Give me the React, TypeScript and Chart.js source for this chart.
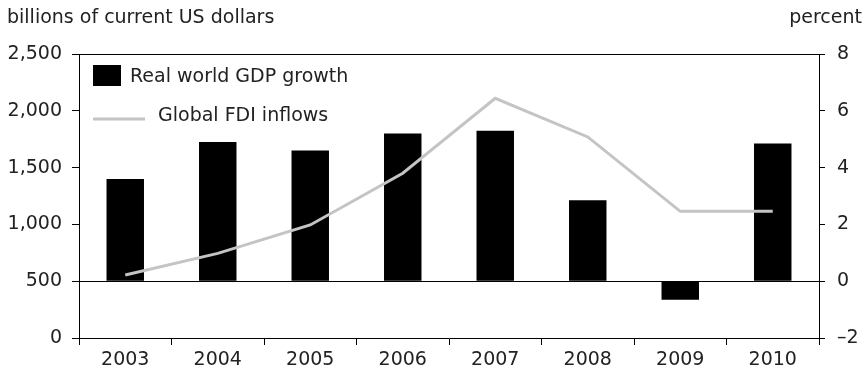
import React, { useEffect, useRef } from "react";
import { Chart, registerables } from "chart.js";

Chart.register(...registerables);

const categories = ["2003", "2004", "2005", "2006", "2007", "2008", "2009", "2010"];
const gdpGrowth = [3.6, 4.9, 4.6, 5.2, 5.3, 2.85, -0.65, 4.85];
const fdiInflows = [555, 745, 995, 1450, 2110, 1770, 1115, 1115];
const leftTicks = [0, 500, 1000, 1500, 2000, 2500];
const rightTicks = [-2, 0, 2, 4, 6, 8];

const FONT = "'DejaVu Sans', sans-serif";
const FS = 19;
const TEXT = "#222";
const LINE_GRAY = "#c4c4c4";

export default function App() {
  const ref = useRef<HTMLCanvasElement | null>(null);

  useEffect(() => {
    document.body.style.margin = "0";
    const canvas = ref.current;
    if (!canvas) return;

    const overlay = {
      id: "overlay",
      afterDraw(chart: any) {
        const ctx = chart.ctx;
        ctx.save();
        ctx.fillStyle = TEXT;
        ctx.font = `${FS}px ${FONT}`;
        ctx.textBaseline = "middle";
        ctx.textAlign = "left";
        ctx.fillText("billions of current US dollars", 7, 18);
        ctx.textAlign = "right";
        ctx.fillText("percent", 862, 18);
        // legend
        ctx.textAlign = "left";
        ctx.fillStyle = "#000";
        ctx.fillRect(93, 65, 28, 21);
        ctx.fillStyle = TEXT;
        ctx.fillText("Real world GDP growth", 130, 77);
        ctx.strokeStyle = LINE_GRAY;
        ctx.lineWidth = 3;
        ctx.beginPath();
        ctx.moveTo(93, 119);
        ctx.lineTo(145, 119);
        ctx.stroke();
        ctx.fillText("Global FDI inflows", 158, 116);
        ctx.restore();
      },
    };

    const chart = new Chart(canvas, {
      type: "bar",
      data: {
        labels: categories,
        datasets: [
          {
            type: "line",
            label: "Global FDI inflows",
            data: fdiInflows,
            yAxisID: "y",
            borderColor: LINE_GRAY,
            borderWidth: 3,
            pointRadius: 0,
            tension: 0,
            order: 0,
          } as any,
          {
            type: "bar",
            label: "Real world GDP growth",
            data: gdpGrowth,
            yAxisID: "y1",
            backgroundColor: "#000",
            categoryPercentage: 1,
            barPercentage: 0.405,
            order: 1,
          },
        ],
      },
      options: {
        responsive: false,
        animation: false,
        layout: { padding: { top: 54, left: 0, right: 0, bottom: 0 } },
        plugins: {
          legend: { display: false },
          tooltip: { enabled: false },
          title: { display: false },
        },
        scales: {
          x: {
            type: "category",
            offset: true,
            grid: {
              offset: true,
              drawOnChartArea: false,
              tickLength: 7,
              tickColor: "#000",
              color: "#000",
            },
            border: { display: true, color: "#000", width: 1 },
            ticks: {
              color: TEXT,
              font: { family: FONT, size: FS },
              padding: 4,
              maxRotation: 0,
            },
            afterFit: (s: any) => {
              s.height = 35;
            },
          },
          y: {
            position: "left",
            min: 0,
            max: 2500,
            afterBuildTicks: (s: any) => {
              s.ticks = leftTicks.map((v) => ({ value: v }));
            },
            grid: {
              drawOnChartArea: false,
              tickLength: 7,
              tickColor: "#000",
              color: "#000",
            },
            border: { display: true, color: "#000", width: 1 },
            ticks: {
              color: TEXT,
              font: { family: FONT, size: FS },
              padding: 10,
              callback: (v: any) => Number(v).toLocaleString("en-US"),
            },
            afterFit: (s: any) => {
              s.width = 79;
            },
          },
          y1: {
            position: "right",
            min: -2,
            max: 8,
            afterBuildTicks: (s: any) => {
              s.ticks = rightTicks.map((v) => ({ value: v }));
            },
            grid: {
              drawOnChartArea: true,
              tickLength: 6,
              tickColor: "#000",
              color: (c: any) =>
                c.tick && (c.tick.value === 0 || c.tick.value === 8)
                  ? "#000"
                  : "rgba(0,0,0,0)",
            },
            border: { display: true, color: "#000", width: 1 },
            ticks: {
              color: TEXT,
              font: { family: FONT, size: FS },
              padding: 12,
              callback: (v: any) => (Number(v) < 0 ? "\u2013" + Math.abs(Number(v)) : String(v)),
            },
            afterFit: (s: any) => {
              s.width = 47;
            },
          },
        },
      },
      plugins: [overlay],
    });

    return () => chart.destroy();
  }, []);

  return (
    <div style={{ width: 866, height: 373 }}>
      <canvas ref={ref} width={866} height={373} style={{ display: "block" }} />
    </div>
  );
}
